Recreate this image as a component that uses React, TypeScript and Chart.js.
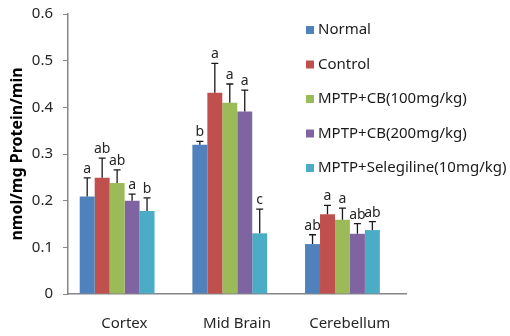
import React, { useEffect, useRef } from "react";
import { Chart, registerables } from "chart.js";

Chart.register(...registerables);

const categories = ["Cortex", "Mid Brain", "Cerebellum"];
const seriesNames = [
  "Normal",
  "Control",
  "MPTP+CB(100mg/kg)",
  "MPTP+CB(200mg/kg)",
  "MPTP+Selegiline(10mg/kg)",
];
const seriesColors = ["#4F81BD", "#C0504D", "#9BBB59", "#8064A2", "#4BACC6"];

const normalValues = [0.209, 0.32, 0.107];
const controlValues = [0.249, 0.431, 0.171];
const cb100Values = [0.238, 0.41, 0.159];
const cb200Values = [0.2, 0.391, 0.129];
const selegilineValues = [0.178, 0.13, 0.137];

const normalErrors = [0.04, 0.007, 0.02];
const controlErrors = [0.042, 0.063, 0.019];
const cb100Errors = [0.028, 0.04, 0.025];
const cb200Errors = [0.014, 0.046, 0.022];
const selegilineErrors = [0.028, 0.052, 0.018];

const normalLetters = ["a", "b", "ab"];
const controlLetters = ["ab", "a", "a"];
const cb100Letters = ["ab", "a", "a"];
const cb200Letters = ["a", "a", "ab"];
const selegilineLetters = ["b", "c", "ab"];

const yTicks = [0, 0.1, 0.2, 0.3, 0.4, 0.5, 0.6];
const yTitle = "nmol/mg Protein/min";

const allValues = [normalValues, controlValues, cb100Values, cb200Values, selegilineValues];
const allErrors = [normalErrors, controlErrors, cb100Errors, cb200Errors, selegilineErrors];
const allLetters = [normalLetters, controlLetters, cb100Letters, cb200Letters, selegilineLetters];

const FONT = "'Noto Sans', sans-serif";
const AXIS_COLOR = "#868686";
const TEXT_COLOR = "#262626";
// bars sit slightly left of each category's centre in the original
const BAR_SHIFT = 0.064;

const errorBarPlugin = {
  id: "errorBars",
  afterDatasetsDraw(chart: any) {
    const ctx = chart.ctx;
    const yScale = chart.scales.y;
    ctx.save();
    chart.data.datasets.forEach((ds: any, di: number) => {
      const meta = chart.getDatasetMeta(di);
      meta.data.forEach((bar: any, i: number) => {
        const v = allValues[di][i];
        const e = allErrors[di][i];
        const x = bar.x;
        const yTop = yScale.getPixelForValue(v);
        const yCap = yScale.getPixelForValue(v + e);
        ctx.strokeStyle = "#1a1a1a";
        ctx.lineWidth = 1.3;
        ctx.beginPath();
        ctx.moveTo(x, yTop);
        ctx.lineTo(x, yCap);
        ctx.moveTo(x - 3.5, yCap);
        ctx.lineTo(x + 3.5, yCap);
        ctx.stroke();
        ctx.fillStyle = TEXT_COLOR;
        ctx.font = "14px " + FONT;
        ctx.textAlign = "center";
        ctx.textBaseline = "alphabetic";
        ctx.fillText(allLetters[di][i], x, yCap - 5);
      });
    });
    ctx.restore();
  },
};

const legendPlugin = {
  id: "customLegend",
  afterDraw(chart: any) {
    const ctx = chart.ctx;
    ctx.save();
    const x0 = 306;
    const y0 = 30;
    const step = 34.5;
    seriesNames.forEach((name, i) => {
      const y = y0 + i * step;
      ctx.fillStyle = seriesColors[i];
      ctx.fillRect(x0, y - 4, 8, 8);
      ctx.fillStyle = "#1a1a1a";
      ctx.font = "15px " + FONT;
      ctx.textAlign = "left";
      ctx.textBaseline = "middle";
      ctx.fillText(name, x0 + 12, y);
    });
    ctx.restore();
  },
};

export default function App() {
  const canvasRef = useRef<HTMLCanvasElement | null>(null);

  useEffect(() => {
    if (!canvasRef.current) return;
    const chart = new Chart(canvasRef.current, {
      type: "bar",
      data: {
        labels: categories,
        datasets: seriesNames.map((name, i) => ({
          label: name,
          data: allValues[i].map((v, j) => ({ x: j, y: v })),
          backgroundColor: seriesColors[i],
          borderWidth: 0,
          categoryPercentage: 0.664,
          barPercentage: 1.0,
          xAxisID: "xb",
        })),
      },
      options: {
        responsive: false,
        animation: false,
        layout: { padding: { left: 0, right: 104, top: 14, bottom: 0 } },
        plugins: {
          legend: { display: false },
          tooltip: { enabled: false },
        },
        scales: {
          xb: {
            type: "linear",
            display: false,
            offset: false,
            min: -0.5 + BAR_SHIFT,
            max: categories.length - 0.5 + BAR_SHIFT,
            afterBuildTicks(scale: any) {
              scale.ticks = categories.map((_, j) => ({ value: j }));
            },
          },
          x: {
            type: "category",
            labels: categories,
            offset: true,
            grid: { display: false, drawTicks: false, offset: true },
            border: { color: AXIS_COLOR, width: 1.5 },
            ticks: {
              color: TEXT_COLOR,
              font: { family: FONT, size: 15 },
              padding: 21,
            },
            afterFit(scale: any) {
              scale.height = 42;
              scale.paddingLeft = 0;
              scale.paddingRight = 0;
            },
          },
          y: {
            min: 0,
            max: 0.6,
            afterBuildTicks(scale: any) {
              scale.ticks = yTicks.map((v) => ({ value: v }));
            },
            grid: {
              display: true,
              drawOnChartArea: false,
              drawTicks: true,
              tickLength: 5,
              color: AXIS_COLOR,
            },
            border: { color: AXIS_COLOR, width: 1.5 },
            ticks: {
              color: TEXT_COLOR,
              font: { family: FONT, size: 15 },
              padding: 10,
              callback: (v: any) => (v === 0 ? "0" : Number(v).toFixed(1)),
            },
            title: {
              display: true,
              text: yTitle,
              color: "#000",
              font: { family: FONT, size: 16, weight: "bold" },
              padding: { top: 8, bottom: 0 },
            },
            afterFit(scale: any) {
              scale.width = 68;
              scale.paddingTop = 0;
              scale.paddingBottom = 0;
            },
          },
        },
      },
      plugins: [errorBarPlugin, legendPlugin],
    });
    return () => chart.destroy();
  }, []);

  return (
    <div style={{ position: "fixed", left: 0, top: 0, width: 510, height: 336, background: "#fff" }}>
      <canvas ref={canvasRef} width={510} height={336} />
    </div>
  );
}
